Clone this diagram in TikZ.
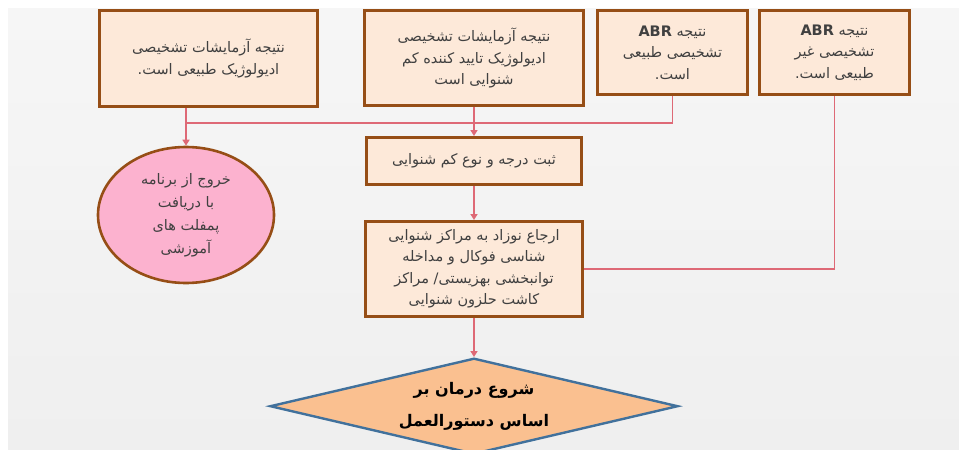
\documentclass[tikz,border=0pt]{standalone}
\usepackage{fontspec}
\newfontfamily\arabicfont[Script=Arabic]{DejaVu Sans}
\TeXXeTstate=1
\usetikzlibrary{arrows.meta, positioning, shapes.geometric, calc}
\definecolor{cajafondo}{RGB}{253,233,217}
\definecolor{cajaborde}{RGB}{150,78,22}
\definecolor{rosa}{RGB}{252,178,207}
\definecolor{naranja}{RGB}{250,192,144}
\definecolor{azul}{RGB}{65,113,156}
\definecolor{linea}{RGB}{222,105,118}
\definecolor{texto}{RGB}{64,64,64}
\newcommand{\rl}[1]{\beginR #1\endR}
\tikzset{
    block/.style = {draw=cajaborde, fill=cajafondo, line width=3pt, rectangle, align=center,
        text=texto, font=\arabicfont\fontsize{14.5}{21.5}\selectfont, inner sep=1pt},
    salida/.style = {draw=cajaborde, fill=rosa, ellipse, line width=2.6pt, align=center,
        text=texto, font=\arabicfont\fontsize{14.5}{23}\selectfont, inner sep=0pt},
    decision/.style = {draw=azul, fill=naranja, diamond, aspect=4, line width=2.4pt, align=center,
        text=black, font=\arabicfont\bfseries\fontsize{16}{32}\selectfont, inner sep=0pt},
    flecha/.style = {draw=linea, line width=1.5pt}
}

\begin{document}
\begin{tikzpicture}[x=1pt, y=-1pt, node distance=30pt, >={Triangle[width=7pt,length=6pt]}]
    % Fondo
    \useasboundingbox (0,0) rectangle (959,450);
    \shade[top color={rgb,255:red,246;green,246;blue,246}, bottom color={rgb,255:red,239;green,239;blue,239}]
        (8,8) rectangle (959,450);
    % Nodos
    \node [block, minimum width=218pt, minimum height=96pt] (normal) at (208.5,58.5)
        {\rl{نتیجه آزمایشات تشخیصی}\\ \rl{ادیولوژیک طبیعی است.}};
    \node [block, right=44pt of normal.north east, anchor=north west, minimum width=219pt, minimum height=95pt] (confirma)
        {\rl{نتیجه آزمایشات تشخیصی}\\ \rl{ادیولوژیک تایید کننده کم}\\ \rl{شنوایی است}};
    \node [block, right=11pt of confirma.north east, anchor=north west, minimum width=150pt, minimum height=84pt] (abrnormal)
        {\rl{نتیجه {\bfseries ABR}}\\ \rl{تشخیصی طبیعی}\\ \rl{است.}};
    \node [block, right=9pt of abrnormal.north east, anchor=north west, minimum width=150pt, minimum height=84pt] (abranormal)
        {\rl{نتیجه {\bfseries ABR}}\\ \rl{تشخیصی غیر}\\ \rl{طبیعی است.}};
    \node [block, below=29pt of confirma, minimum width=215pt, minimum height=47pt] (registro)
        {\rl{ثبت درجه و نوع کم شنوایی}};
    \node [block, below=34pt of registro, minimum width=217pt, minimum height=95pt] (derivacion)
        {\rl{ارجاع نوزاد به مراکز شنوایی}\\ \rl{شناسی فوکال و مداخله}\\ \rl{توانبخشی بهزیستی/ مراکز}\\ \rl{کاشت حلزون شنوایی}};
    \node [decision, below=39pt of derivacion, minimum width=408pt, minimum height=96pt] (tratamiento)
        {\rl{شروع درمان بر}\\ \rl{اساس دستورالعمل}};
    \node [salida, minimum width=176pt, minimum height=136pt] (fin) at (186,215)
        {\rl{خروج از برنامه}\\ \rl{با دریافت}\\ \rl{پمفلت های}\\ \rl{آموزشی}};
    \coordinate (cruce) at (0,123);
    % Flechas
    \draw [flecha, ->] (fin.north |- normal.south) -- (fin.north);
    \draw [flecha] (abrnormal.south) |- (fin.north |- cruce);
    \draw [flecha, ->] (confirma.south) -- (registro.north);
    \draw [flecha, ->] (registro.south) -- (derivacion.north);
    \draw [flecha, ->] (derivacion.south) -- (tratamiento.north);
    \draw [flecha] (abranormal.south) |- (derivacion.east);
\end{tikzpicture}
\end{document}
